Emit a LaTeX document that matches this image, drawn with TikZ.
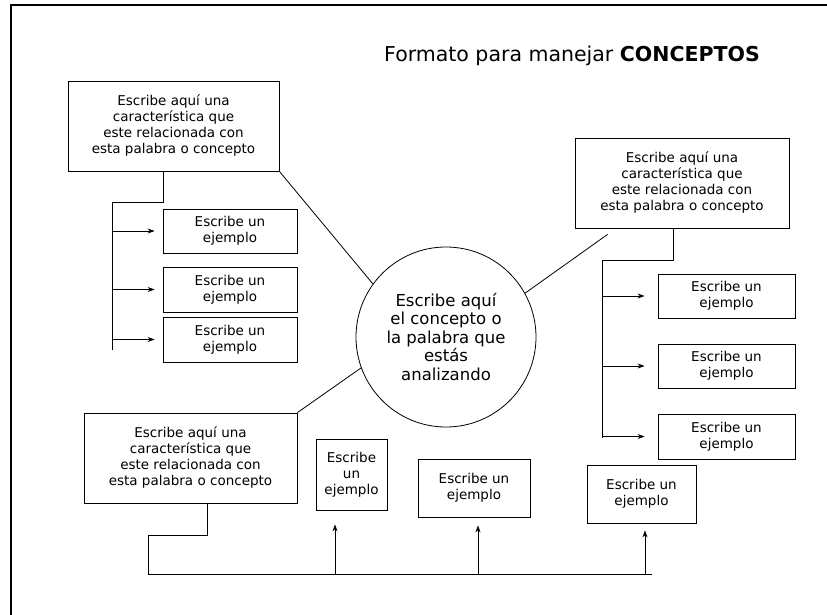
\documentclass[tikz,border=0pt]{standalone}
\usepackage{fontspec}
\setmainfont{DejaVu Sans}
\usetikzlibrary{arrows.meta}
\tikzset{
  caja/.style={draw, line width=0.8pt, align=center, inner sep=0pt, font=\fontsize{13.5}{16}\selectfont},
  ejemplo/.style={caja},
  circulo/.style={draw, circle, line width=0.8pt, minimum size=180pt, inner sep=0pt, align=center, font=\fontsize{16.5}{18.5}\selectfont},
  linea/.style={line width=0.8pt},
  flecha/.style={line width=0.8pt, -{Stealth[length=7pt,width=5pt]}},
}
\begin{document}
\begin{tikzpicture}[x=1pt,y=-1pt]
          \useasboundingbox (0,0) rectangle (827,615);
          % marco
          \draw[line width=1.6pt] (11,615) -- (11,5) -- (827,5);
          \node[anchor=base, font=\fontsize{20.5}{24}\selectfont] (titulo) at (572,62) {Formato para manejar \textbf{CONCEPTOS}};
          % concepto central
          \node[circulo] (concepto) at (446,337) {Escribe aquí\\el concepto o\\la palabra que\\estás\\analizando};
          % caracteristicas
          \node[caja, minimum width=211pt, minimum height=90pt] (caracA) at (173.5,126) {Escribe aquí una\\característica que\\este relacionada con\\esta palabra o concepto};
          \node[caja, minimum width=214pt, minimum height=90pt] (caracB) at (682,183) {Escribe aquí una\\característica que\\este relacionada con\\esta palabra o concepto};
          \node[caja, minimum width=213pt, minimum height=90pt] (caracC) at (190.5,458) {Escribe aquí una\\característica que\\este relacionada con\\esta palabra o concepto};
          % ejemplos izquierda
          \node[ejemplo, minimum width=134pt, minimum height=44pt] (ejA1) at (230,231) {Escribe un\\ejemplo};
          \node[ejemplo, minimum width=134pt, minimum height=45pt] (ejA2) at (230,289.5) {Escribe un\\ejemplo};
          \node[ejemplo, minimum width=134pt, minimum height=45pt] (ejA3) at (230,339.5) {Escribe un\\ejemplo};
          % ejemplos derecha
          \node[ejemplo, minimum width=137pt, minimum height=44pt] (ejB1) at (726.5,296) {Escribe un\\ejemplo};
          \node[ejemplo, minimum width=137pt, minimum height=44pt] (ejB2) at (726.5,366) {Escribe un\\ejemplo};
          \node[ejemplo, minimum width=137pt, minimum height=45pt] (ejB3) at (726.5,436.5) {Escribe un\\ejemplo};
          % ejemplos abajo
          \node[ejemplo, minimum width=71pt, minimum height=71pt] (ejC1) at (351.5,474.5) {Escribe\\un\\ejemplo};
          \node[ejemplo, minimum width=112pt, minimum height=58pt] (ejC2) at (474,488) {Escribe un\\ejemplo};
          \node[ejemplo, minimum width=109pt, minimum height=58pt] (ejC3) at (641.5,494) {Escribe un\\ejemplo};
          % lineas al concepto
          \draw[linea] (caracA.south east) -- (concepto.144);
          \draw[linea] ([xshift=33pt,yshift=-6pt]caracB.south west) -- (concepto.29);
          \draw[linea] (caracC.north east) -- (concepto.200);
          % llave izquierda
          \coordinate (izqA) at (112,202);
          \coordinate (izqB) at (112,350);
          \draw[linea] ([xshift=-10.5pt]caracA.south) |- (izqA) -- (izqB);
          \draw[flecha, shorten >=8pt] (izqA |- ejA1) -- (ejA1);
          \draw[flecha, shorten >=8pt] (izqA |- ejA2) -- (ejA2);
          \draw[flecha, shorten >=8pt] (izqA |- ejA3) -- (ejA3);
          % llave derecha
          \coordinate (derA) at (602,260);
          \coordinate (derB) at (602,438);
          \draw[linea] ([xshift=-9pt]caracB.south) |- (derA) -- (derB);
          \draw[flecha, shorten >=13pt] (derA |- ejB1) -- (ejB1);
          \draw[flecha, shorten >=13pt] (derA |- ejB2) -- (ejB2);
          \draw[flecha, shorten >=13pt] (derA |- ejB3) -- (ejB3);
          % llave abajo
          \coordinate (abaA) at (148,535);
          \coordinate (abaB) at (148,574);
          \coordinate (abaC) at (652,574);
          \draw[linea] ([xshift=16.5pt]caracC.south) |- (abaA) -- (abaB) -- (abaC);
          \coordinate (pie1) at (335,574);
          \coordinate (pie2) at (478,574);
          \coordinate (pie3) at (645,574);
          \draw[flecha, shorten >=14pt] (pie1) -- (pie1 |- ejC1.south);
          \draw[flecha, shorten >=8pt] (pie2) -- (pie2 |- ejC2.south);
          \draw[flecha, shorten >=7pt] (pie3) -- (pie3 |- ejC3.south);
        \end{tikzpicture}
\end{document}
